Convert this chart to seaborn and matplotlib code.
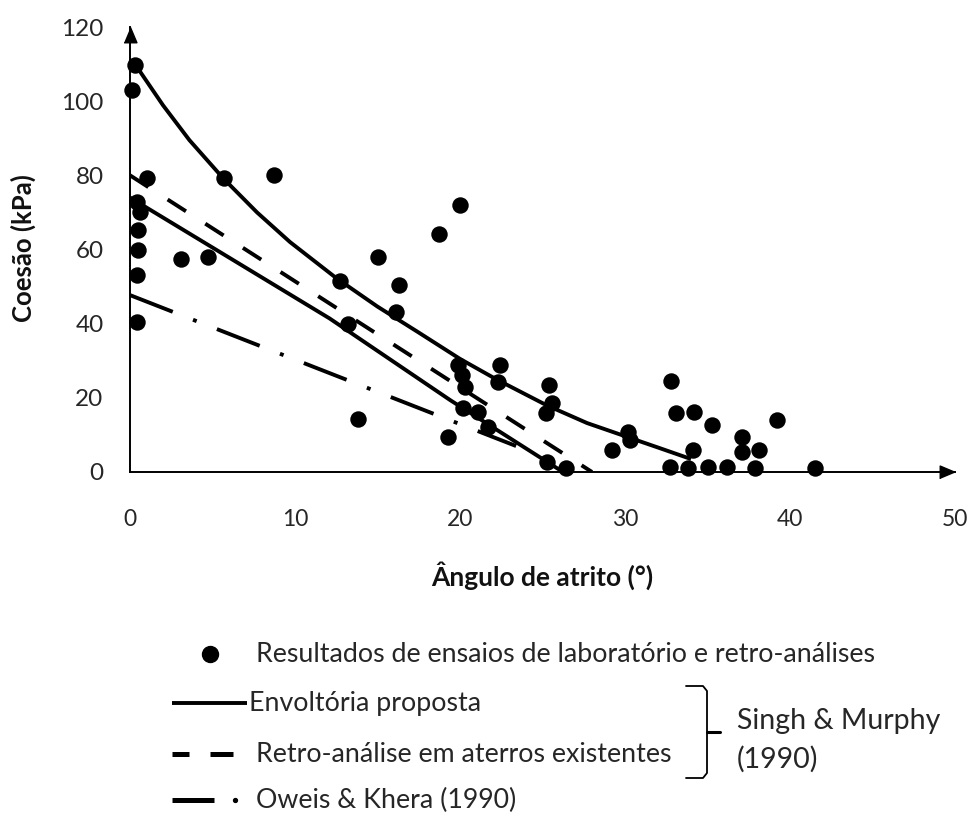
import matplotlib
matplotlib.use("Agg")
import matplotlib.pyplot as plt
from matplotlib.lines import Line2D
import seaborn as sns
import pandas as pd

# Laboratory tests and back-analyses: friction angle (deg) vs cohesion (kPa)
phi_lab = [0.3, 0.1, 1.0, 5.7, 8.7, 0.4, 0.6, 0.5, 0.5, 3.1, 4.7, 0.4, 0.4,
           12.7, 15.05, 16.3, 16.1, 13.2, 13.8, 19.3, 18.7, 20.0, 19.9, 20.1,
           20.3, 20.2, 21.1, 21.7, 22.4, 22.3, 25.4, 25.6, 25.2, 25.3, 26.4,
           29.2, 30.2, 30.3, 32.8, 33.1, 34.2, 35.3, 37.1, 37.1, 38.1, 39.2,
           34.1, 32.7, 33.8, 35.0, 36.2, 37.9, 41.5]
c_lab = [109.7, 102.9, 79.2, 79.2, 80.0, 72.9, 70.2, 65.2, 59.8, 57.4, 58.0,
         53.1, 40.5, 51.5, 58.0, 50.4, 43.2, 40.0, 14.3, 9.4, 64.2, 72.0, 28.8,
         26.1, 23.0, 17.2, 16.3, 12.2, 28.8, 24.3, 23.4, 18.6, 15.9, 2.8, 1.1,
         5.9, 10.9, 8.6, 24.5, 15.8, 16.3, 12.7, 9.4, 5.4, 5.9, 14.0, 5.9, 1.3,
         1.1, 1.3, 1.3, 1.1, 1.1]

# Proposed envelope (Singh & Murphy, 1990)
env_phi = [0.3, 2.0, 3.6, 5.65, 7.7, 9.7, 12.5, 15.0, 17.5, 20.0, 22.2,
           25.25, 27.7, 30.3, 32.0, 34.0]
env_c = [110.0, 98.9, 89.5, 79.2, 70.0, 62.0, 52.3, 44.6, 37.6, 30.5, 25.0,
         18.0, 13.2, 9.2, 6.6, 3.5]

# Lower solid line
low_phi = [0.0, 12.1, 19.4, 26.1]
low_c = [74.0, 41.4, 19.4, 0.4]

# Back-analysis of existing landfills (Singh & Murphy, 1990)
retro_phi = [0.0, 28.0]
retro_c = [80.0, 0.0]

# Oweis & Khera (1990)
ok_phi = [0.0, 23.4]
ok_c = [47.7, 7.0]

x_ticks = [0, 10, 20, 30, 40, 50]
y_ticks = [0, 20, 40, 60, 80, 100, 120]

legend_labels = [
    "Resultados de ensaios de laboratório e retro-análises",
    "Envoltória proposta",
    "Retro-análise em aterros existentes",
    "Oweis & Khera (1990)",
]
bracket_label = "Singh & Murphy\n(1990)"

sns.set_theme(style="white")
plt.rcParams["font.family"] = ["Lato", "DejaVu Sans"]

W, H = 973, 815
fig = plt.figure(figsize=(W / 100, H / 100), dpi=100)
ax = fig.add_axes([130 / W, 1 - 472 / H, 825 / W, 445 / H])

LW = 2.8
sns.scatterplot(x=phi_lab, y=c_lab, ax=ax, color="black", s=140,
                linewidth=0, clip_on=False, zorder=3)

curves = [
    (env_phi, env_c, None),
    (low_phi, low_c, None),
    (retro_phi, retro_c, (5.6, 5.9)),
    (ok_phi, ok_c, (11.8, 5.6, 1.0, 5.6)),
]
for xs, ys, dash in curves:
    df = pd.DataFrame({"phi": xs, "c": ys})
    sns.lineplot(data=df, x="phi", y="c", ax=ax, color="black", lw=LW,
                 sort=False, estimator=None, zorder=4)
    line = ax.lines[-1]
    line.set_solid_capstyle("butt")
    line.set_dash_capstyle("butt")
    if dash is not None:
        line.set_dashes(dash)

ax.set_xlim(0, 50)
ax.set_ylim(0, 120)
ax.set_xticks(x_ticks)
ax.set_yticks(y_ticks)
for side in ("top", "right"):
    ax.spines[side].set_visible(False)
for side in ("left", "bottom"):
    ax.spines[side].set_linewidth(1.4)
    ax.spines[side].set_color("black")
ax.tick_params(axis="both", which="major", direction="out", length=6,
               width=1.4, color="black", labelcolor="#262626")
ax.tick_params(axis="y", pad=13, labelsize=17.5)
ax.tick_params(axis="x", pad=21, labelsize=16.5)

# Arrow heads at the ends of both axes
up = [(-0.42, -1.0), (0.42, -1.0), (0.0, 0.0)]
right = [(-1.0, -0.42), (-1.0, 0.42), (0.0, 0.0)]
ax.plot([0], [120], marker=up, markersize=22, color="black", clip_on=False,
        zorder=5)
ax.plot([50], [0], marker=right, markersize=22, color="black", clip_on=False,
        zorder=5)

ax.set_xlabel("Ângulo de atrito (°)", fontsize=19, fontweight="bold",
              color="#111111")
ax.set_ylabel("Coesão (kPa)", fontsize=18.5, fontweight="bold",
              color="#111111")
# x label: top edge of the text; y label: right edge of the rotated text
ax.xaxis.set_label_coords((542 - 130) / 825, (472 - 561) / 445)
ax.yaxis.set_label_coords((36 - 130) / 825, (472 - 248) / 445)


def fx(px):
    return px / W


def fy(py):
    return 1 - py / H


tr = fig.transFigure
txt_kw = dict(fontsize=19.3, color="#262626", va="center", ha="left",
              transform=tr)

# Legend rows
fig.add_artist(Line2D([fx(210)], [fy(654)], marker="o", markersize=11.5,
                      color="black", lw=0, transform=tr))
fig.text(fx(256), fy(654), legend_labels[0], **txt_kw)

fig.add_artist(Line2D([fx(172), fx(247)], [fy(703), fy(703)], color="black",
                      lw=LW, transform=tr, solid_capstyle="butt"))
fig.text(fx(249), fy(703), legend_labels[1], **txt_kw)

fig.add_artist(Line2D([fx(172), fx(189)], [fy(754), fy(754)], color="black",
                      lw=LW + 0.8, transform=tr, solid_capstyle="butt"))
fig.add_artist(Line2D([fx(210), fx(233)], [fy(754), fy(754)], color="black",
                      lw=LW + 0.8, transform=tr, solid_capstyle="butt"))
fig.text(fx(256), fy(754), legend_labels[2], **txt_kw)

fig.add_artist(Line2D([fx(172), fx(214)], [fy(800), fy(800)], color="black",
                      lw=LW + 0.8, transform=tr, solid_capstyle="butt"))
fig.add_artist(Line2D([fx(235)], [fy(800)], marker="o", markersize=2.8,
                      color="black", lw=0, transform=tr))
fig.text(fx(256), fy(800), legend_labels[3], **txt_kw)

# Bracket grouping the two Singh & Murphy entries
bx, btop, bbot, bmid = 707, 686, 778, 732
fig.add_artist(Line2D([fx(686), fx(703), fx(bx), fx(bx), fx(703), fx(686)],
                      [fy(btop), fy(btop), fy(btop + 5), fy(bbot - 5),
                       fy(bbot), fy(bbot)],
                      color="black", lw=1.3, transform=tr))
fig.add_artist(Line2D([fx(bx), fx(bx + 13)], [fy(bmid), fy(bmid)],
                      color="black", lw=2.2, transform=tr))
fig.text(fx(737), fy(740), bracket_label, fontsize=20.5, color="#262626",
         va="center", ha="left", linespacing=1.55, transform=tr)

fig.savefig("out.png", dpi=100, facecolor="white")
